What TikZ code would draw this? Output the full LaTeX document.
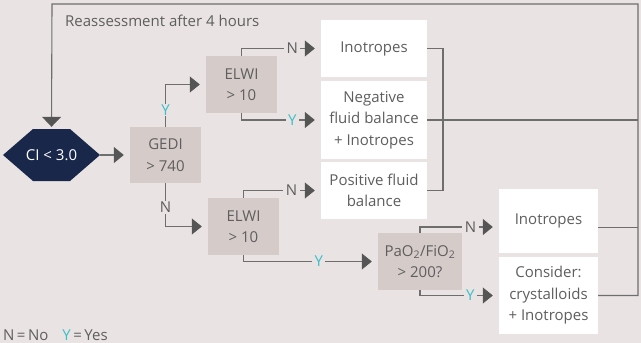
\documentclass[tikz,border=0pt]{standalone}
\usepackage{fontspec}
\setmainfont{Open Sans}
\usetikzlibrary{arrows.meta}
\definecolor{bg}{HTML}{E9E4E3}
\definecolor{decgray}{HTML}{D5CCC9}
\definecolor{navy}{HTML}{18274A}
\definecolor{linegray}{HTML}{6E6E6E}
\definecolor{tipgray}{HTML}{555555}
\definecolor{txtgray}{HTML}{5E5E5E}
\definecolor{yescyan}{HTML}{3CC0C9}
\tikzset{
  txt/.style={text=txtgray, font=\fontsize{15}{21.5}\selectfont, align=center, inner sep=0pt},
  actbox/.style={txt, fill=white},
  decbox/.style={txt, fill=decgray},
  conn/.style={draw=linegray, line width=1.1pt},
  arr/.style={conn, -{Triangle[length=10pt,width=16pt,color=tipgray]}, shorten >=6pt},
  lab/.style={fill=bg, inner xsep=2.5pt, inner ysep=1pt, text=txtgray, font=\fontsize{15}{15}\selectfont},
  ylab/.style={lab, text=yescyan},
}
\begin{document}
\begin{tikzpicture}[x=1pt, y=-1pt]
\fill[bg] (0,0) rectangle (641,343);
\useasboundingbox (0,0) rectangle (641,343);

% start hexagon
\node[txt, text=white, minimum width=97pt, minimum height=52pt,
  path picture={\fill[navy] (path picture bounding box.west)
     -- ([xshift=30pt]path picture bounding box.north west)
     -- ([xshift=-30pt]path picture bounding box.north east)
     -- (path picture bounding box.east)
     -- ([xshift=-30pt]path picture bounding box.south east)
     -- ([xshift=30pt]path picture bounding box.south west) -- cycle;}]
  (ci) at (51.5,155) {CI < 3.0};

% decision boxes
\node[decbox, minimum width=71pt, minimum height=56pt] (gedi) at (165.5,155) {GEDI\\> 740};
\node[decbox, minimum width=71pt, minimum height=57pt] (elwi1) at (241.5,84.5) {ELWI\\> 10};
\node[decbox, minimum width=71pt, minimum height=57pt] (elwi2) at (243.5,226.5) {ELWI\\> 10};
\node[decbox, minimum width=84pt, minimum height=57pt] (pao) at (420,261.5)
  {PaO\textsubscript{2}/FiO\textsubscript{2}\\> 200?};

% action boxes
\node[actbox, minimum width=106pt, minimum height=57pt] (ins1) at (374,48.5) {Inotropes};
\node[actbox, minimum width=106pt, minimum height=78pt] (neg) at (374,120) {Negative\\fluid balance\\+ Inotropes};
\node[actbox, minimum width=106pt, minimum height=57pt] (pos) at (374,190.5) {Positive fluid\\balance};
\node[actbox, minimum width=99pt, minimum height=64pt] (ins2) at (548.5,221) {Inotropes};
\node[actbox, minimum width=99pt, minimum height=77pt] (cons) at (548.5,295.5) {Consider:\\crystalloids\\+ Inotropes};

% title and legend
\node[txt, anchor=base west] (title) at (65,26) {Reassessment after 4 hours};
\node[txt, anchor=base west] (legend) at (3,340)
  {N\,=\,No\hspace{14pt}\textcolor{yescyan}{Y}\,=\,Yes};

% loop corners
\coordinate (tl) at (52,4);
\coordinate (tr) at (638,4);
\coordinate (j1) at (443,120);

% decision connectors
\draw[arr] (ci.east) -- (gedi.west);
\draw[arr] (gedi.north) |- node[ylab, pos=0.2] {Y} (elwi1.west);
\draw[arr] (gedi.south) |- node[lab, pos=0.28] {N} (elwi2.west);
\draw[arr] (elwi1.north) |- node[lab, pos=0.82] {N} (ins1.west);
\draw[arr] (elwi1.south) |- node[ylab, pos=0.82] {Y} (neg.west);
\draw[arr] (elwi2.north) |- node[lab, pos=0.81] {N} (pos.west);
\draw[arr] (elwi2.south) |- node[ylab, pos=0.78] {Y} (pao.west);
\draw[arr] (pao.north) |- node[lab, pos=0.82] {N} ([yshift=-6pt]ins2.west);
\draw[arr] (pao.south) |- node[ylab, pos=0.82] {Y} (cons.west);

% return lines and reassessment loop
\draw[conn] (ins1.east) -| (j1) |- (pos.east);
\draw[conn] (neg.east) -- (neg.east -| tr);
\draw[conn] ([yshift=-6.5pt]ins2.east) -- ([yshift=-6.5pt]ins2.east -| tr);
\draw[conn, -{Triangle[length=10pt,width=19pt,color=tipgray]}, shorten >=2pt]
  (cons.east) -| (tr) -- (tl) -- (ci.north);
\end{tikzpicture}
\end{document}
